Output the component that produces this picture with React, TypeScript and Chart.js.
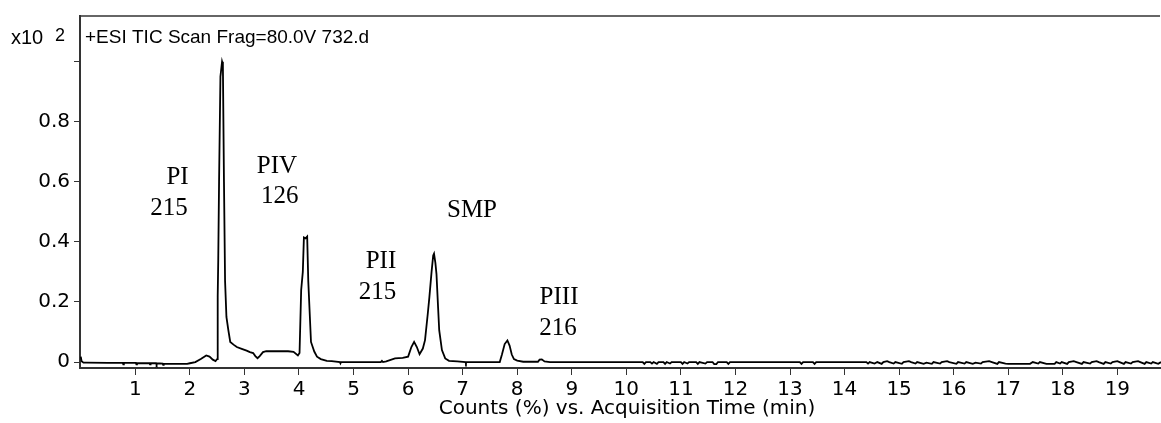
import { useEffect, useRef } from 'react';
import { Chart, registerables } from 'chart.js';

Chart.register(...registerables);

// Total ion chromatogram, retention time (min) and relative counts (x10^2)
const baseTime = [
  0.0, 0.015, 0.05, 0.1, 0.5, 0.77, 0.78, 0.79, 1.01, 1.02, 1.03, 1.26, 1.27, 1.28,
  1.38, 1.39, 1.4, 1.5, 1.51, 1.52, 1.95, 2.0, 2.1, 2.2, 2.3, 2.36, 2.42, 2.47,
];
const baseCounts = [
  0.018, 0.003, -0.002, -0.002, -0.003, -0.003, -0.008, -0.003, -0.003, -0.008, -0.004, -0.004, -0.008, -0.004,
  -0.004, -0.008, -0.004, -0.005, -0.009, -0.006, -0.006, -0.004, 0.0, 0.01, 0.022, 0.018, 0.008, 0.003,
];

const peakTime = [
  2.5, 2.51, 2.52, 2.535, 2.56, 2.59, 2.605, 2.625, 2.645, 2.67, 2.705, 2.74, 2.8, 2.86,
  2.95, 3.04, 3.1, 3.16, 3.2, 3.24, 3.28, 3.34, 3.4, 3.6, 3.8, 3.9, 3.98, 4.01,
  4.04, 4.07, 4.09, 4.12, 4.15, 4.17, 4.22, 4.28, 4.33, 4.4, 4.51, 4.6, 4.75, 4.76,
  4.77, 5.0, 5.5, 5.52, 5.54, 5.6, 5.76, 5.9, 6.0, 6.06, 6.11, 6.16, 6.21, 6.27,
  6.31, 6.36, 6.39, 6.43, 6.46, 6.475, 6.5, 6.52, 6.55, 6.57, 6.62, 6.68, 6.75, 6.9,
  7.05, 7.06, 7.07, 7.5, 7.68, 7.72, 7.77, 7.82, 7.86, 7.9, 7.94, 8.0, 8.11, 8.38,
  8.41, 8.45, 8.5, 8.6, 10.3,
];
const peakCounts = [
  0.01, 0.22, 0.34, 0.6, 0.95, 1.0, 0.99, 0.6, 0.27, 0.15, 0.106, 0.067, 0.058, 0.05,
  0.044, 0.038, 0.033, 0.03, 0.02, 0.013, 0.02, 0.033, 0.036, 0.036, 0.036, 0.034, 0.022, 0.03,
  0.24, 0.3, 0.415, 0.412, 0.418, 0.27, 0.067, 0.035, 0.018, 0.01, 0.004, 0.003, 0.0, -0.004,
  0.0, 0.0, 0.0, 0.004, 0.0, 0.002, 0.012, 0.014, 0.018, 0.05, 0.067, 0.05, 0.026, 0.045,
  0.073, 0.16, 0.216, 0.3, 0.355, 0.361, 0.33, 0.293, 0.18, 0.106, 0.04, 0.012, 0.004, 0.002,
  0.0, -0.004, 0.0, 0.0, 0.0, 0.025, 0.06, 0.072, 0.055, 0.025, 0.01, 0.005, 0.001, 0.001,
  0.008, 0.009, 0.002, 0.0, 0.0,
];

const tailTime = [
  10.33, 10.36, 10.44, 10.47, 10.5, 10.56, 10.59, 10.68, 10.71, 10.74, 10.8, 10.83, 11.0, 11.03,
  11.06, 11.12, 11.15, 11.28, 11.31, 11.34, 11.45, 11.48, 11.58, 11.61, 11.65, 11.68, 11.84, 11.87,
  11.9, 13.18, 13.21, 13.24, 13.42, 13.45, 13.48, 14.4, 14.43, 14.46, 14.55, 14.6, 14.68, 14.71,
  14.78, 14.82, 14.9, 14.93, 15.05, 15.08, 15.18, 15.22, 15.3, 15.33, 15.45, 15.5, 15.6, 15.63,
  15.75, 15.78, 15.88, 15.92, 16.05, 16.08, 16.2, 16.23, 16.35, 16.4, 16.5, 16.53, 16.65, 16.7,
  16.8, 16.83, 16.95, 17.0, 17.4, 17.45, 17.55, 17.58, 17.7, 17.85, 17.88, 17.95, 17.98, 18.08,
  18.11, 18.2, 18.25, 18.35, 18.38, 18.5, 18.53, 18.62, 18.66, 18.75, 18.78, 18.88, 18.91, 19.0,
  19.04, 19.12, 19.15, 19.25, 19.28, 19.38, 19.42, 19.5, 19.53, 19.62, 19.65, 19.75, 19.8,
];
const tailCounts = [
  -0.006, 0.0, 0.0, -0.005, 0.0, -0.006, 0.0, 0.0, -0.006, 0.0, -0.005, 0.0, 0.0, -0.006,
  0.0, -0.005, 0.0, 0.0, -0.006, 0.0, -0.005, 0.0, 0.0, -0.007, -0.007, 0.0, 0.0, -0.006,
  0.0, 0.0, -0.006, 0.0, 0.0, -0.006, 0.0, 0.0, -0.005, 0.0, -0.005, 0.0, -0.006, 0.0,
  0.003, 0.0, -0.005, 0.0, -0.006, 0.0, 0.003, 0.0, -0.005, 0.0, -0.006, -0.002, -0.006, 0.0,
  -0.005, 0.0, 0.003, 0.0, -0.006, 0.0, -0.005, 0.0, -0.006, -0.002, -0.005, 0.0, 0.003, 0.0,
  -0.006, 0.0, -0.005, -0.006, -0.006, 0.0, -0.005, 0.0, -0.006, -0.006, 0.0, -0.005, 0.0, -0.006,
  0.0, 0.003, 0.0, -0.006, 0.0, -0.005, 0.0, 0.003, 0.0, -0.006, 0.0, -0.005, 0.0, 0.003,
  0.0, -0.006, 0.0, -0.005, 0.0, 0.003, 0.0, -0.006, 0.0, -0.005, 0.0, -0.006, 0.0,
];

const xTickValues = [1, 2, 3, 4, 5, 6, 7, 8, 9, 10, 11, 12, 13, 14, 15, 16, 17, 18, 19];
const yTickValues = [0, 0.2, 0.4, 0.6, 0.8, 1.0];
const yTickLabels = ['0', '0.2', '0.4', '0.6', '0.8', ''];

// Peak annotations: compound name over the m/z value, anchored in data units
const peakLabelText = ['PI', '215', 'PIV', '126', 'PII', '215', 'SMP', 'PIII', '216'];
const peakLabelTime = [1.773, 1.617, 3.597, 3.647, 5.503, 5.439, 7.171, 8.766, 8.748];
const peakLabelLevel = [0.594, 0.491, 0.631, 0.528, 0.3125, 0.21, 0.482, 0.194, 0.089];

const plotTitle = '+ESI TIC Scan Frag=80.0V 732.d';
const xAxisTitle = 'Counts (%) vs. Acquisition Time (min)';

const allTime = [...baseTime, ...peakTime, ...tailTime];
const allCounts = [...baseCounts, ...peakCounts, ...tailCounts];

const overlayPlugin = {
  id: 'chromOverlay',
  afterDraw(chart: any) {
    const { ctx, chartArea, scales } = chart;
    ctx.save();
    // frame line along the top of the plot
    ctx.strokeStyle = '#333';
    ctx.lineWidth = 1.5;
    ctx.beginPath();
    ctx.moveTo(chartArea.left, chartArea.top);
    ctx.lineTo(chartArea.right - 1, chartArea.top);
    ctx.stroke();

    ctx.fillStyle = '#000';
    ctx.textBaseline = 'alphabetic';
    ctx.textAlign = 'left';
    ctx.font = '19px "Liberation Sans", Arial, sans-serif';
    ctx.fillText(plotTitle, 85, 43);
    ctx.font = '20px "Liberation Sans", Arial, sans-serif';
    ctx.fillText('x10', 11, 44);
    ctx.font = '18px "Liberation Sans", Arial, sans-serif';
    ctx.fillText('2', 55, 41);

    ctx.font = '20px "DejaVu Sans", sans-serif';
    ctx.textAlign = 'center';
    ctx.fillText(xAxisTitle, 627, 414);

    ctx.font = '25px "Liberation Serif", "Times New Roman", serif';
    ctx.textAlign = 'center';
    for (let i = 0; i < peakLabelText.length; i++) {
      const px = scales.x.getPixelForValue(peakLabelTime[i]);
      const py = scales.y.getPixelForValue(peakLabelLevel[i]);
      ctx.fillText(peakLabelText[i], px, py);
    }
    ctx.restore();
  },
};

export default function App() {
  const canvasRef = useRef<HTMLCanvasElement | null>(null);

  useEffect(() => {
    if (!canvasRef.current) return;
    const chart = new Chart(canvasRef.current, {
      type: 'line',
      data: {
        datasets: [
          {
            data: allTime.map((t, i) => ({ x: t, y: allCounts[i] })),
            borderColor: '#000',
            borderWidth: 1.8,
            pointRadius: 0,
            tension: 0,
            fill: false,
          },
        ],
      },
      options: {
        animation: false,
        responsive: false,
        maintainAspectRatio: false,
        layout: { padding: { top: 13, left: 0, right: 0, bottom: 0 } },
        plugins: { legend: { display: false }, tooltip: { enabled: false }, title: { display: false } },
        scales: {
          x: {
            type: 'linear',
            min: -0.014,
            max: 19.8,
            afterFit: (s: any) => {
              s.height = 55;
            },
            afterBuildTicks: (s: any) => {
              s.ticks = xTickValues.map((v) => ({ value: v }));
            },
            ticks: {
              color: '#000',
              font: { family: '"DejaVu Sans", sans-serif', size: 20 },
              padding: 3,
              maxRotation: 0,
              autoSkip: false,
              callback: (v: any) => String(v),
            },
            grid: { drawOnChartArea: false, tickLength: 7, color: '#333', lineWidth: 1 },
            border: { display: true, color: '#333', width: 2 },
          },
          y: {
            type: 'linear',
            min: -0.0198,
            max: 1.152,
            afterFit: (s: any) => {
              s.width = 80;
            },
            afterBuildTicks: (s: any) => {
              s.ticks = yTickValues.map((v) => ({ value: v }));
            },
            ticks: {
              color: '#000',
              font: { family: '"DejaVu Sans", sans-serif', size: 20 },
              padding: 4,
              autoSkip: false,
              callback: (_v: any, i: number) => yTickLabels[i],
            },
            grid: { drawOnChartArea: false, tickLength: 6, color: '#333', lineWidth: 1 },
            border: { display: true, color: '#333', width: 2 },
          },
        },
      },
      plugins: [overlayPlugin],
    });
    return () => chart.destroy();
  }, []);

  return (
    <div style={{ position: 'fixed', left: 0, top: 0, width: 1161, height: 423, background: '#fff' }}>
      <canvas ref={canvasRef} width={1161} height={423} style={{ width: 1161, height: 423 }} />
    </div>
  );
}
